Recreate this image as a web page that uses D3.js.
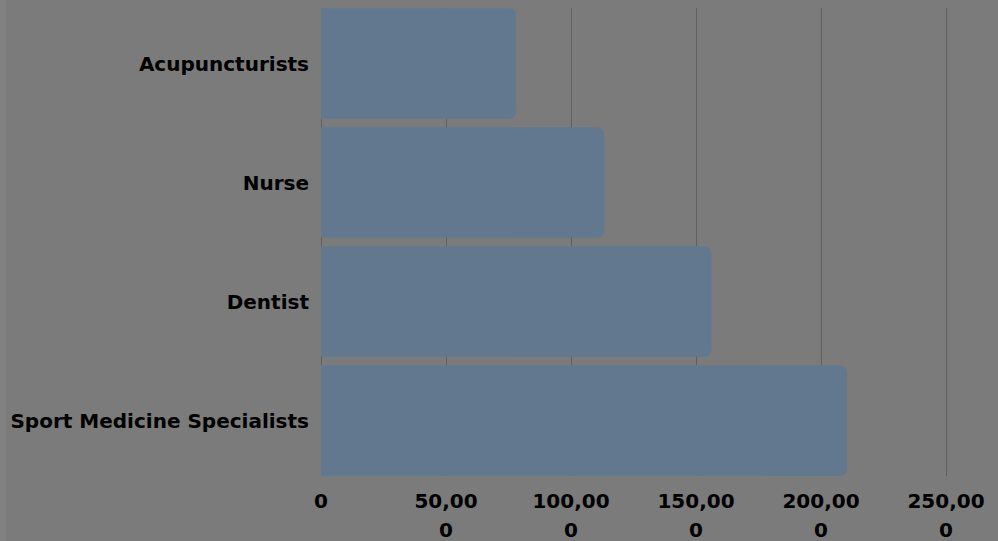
<!DOCTYPE html>
<html>
<head>
<meta charset="utf-8">
<script src="https://d3js.org/d3.v7.min.js"></script>
<style>
  body { margin: 0; background: #7b7b7b; }
  svg { display: block; }
  text { font-family: "DejaVu Sans", sans-serif; font-weight: bold; fill: #000; }
</style>
</head>
<body>
<script>
var categories = ["Acupuncturists", "Nurse", "Dentist", "Sport Medicine Specialists"];
var values = [78000, 113300, 156200, 210400];
var xTicks = [0, 50000, 100000, 150000, 200000, 250000];

var width = 998, height = 541;
var left = 321, right = 946;

var svg = d3.select("body").append("svg")
    .attr("width", width)
    .attr("height", height);

svg.append("rect").attr("width", width).attr("height", height).attr("fill", "#7b7b7b");
svg.append("rect").attr("width", 6).attr("height", height).attr("fill", "#818181");

var x = d3.scaleLinear().domain([0, 250000]).range([left, right]);
var y = d3.scaleBand().domain(categories).range([4, 480])
    .paddingInner(0.07).paddingOuter(0.035);

// grid
svg.selectAll(".grid").data(xTicks).enter().append("line")
    .attr("x1", function(d) { return x(d) + 0.5; })
    .attr("x2", function(d) { return x(d) + 0.5; })
    .attr("y1", 8).attr("y2", 476)
    .attr("stroke", "#606060").attr("stroke-width", 1);

// bars, rounded on the right end only
var r = 8;
svg.selectAll(".bar").data(values).enter().append("path")
    .attr("fill", "#62788f")
    .attr("d", function(d, i) {
      var x0 = x(0), x1 = x(d), y0 = y(categories[i]), h = y.bandwidth();
      return "M" + x0 + "," + y0 + "H" + (x1 - r) +
        "Q" + x1 + "," + y0 + " " + x1 + "," + (y0 + r) +
        "V" + (y0 + h - r) +
        "Q" + x1 + "," + (y0 + h) + " " + (x1 - r) + "," + (y0 + h) +
        "H" + x0 + "Z";
    });

// category labels
svg.selectAll(".cat").data(categories).enter().append("text")
    .attr("x", 309)
    .attr("y", function(d) { return y(d) + y.bandwidth() / 2; })
    .attr("dy", "0.35em")
    .attr("text-anchor", "end")
    .style("font-size", "20px")
    .text(function(d) { return d; });

// x tick labels, wrapped like the original ("50,00" / "0")
var fmt = d3.format(",");
var tl = svg.selectAll(".tick").data(xTicks).enter().append("text")
    .attr("text-anchor", "middle")
    .style("font-size", "20px")
    .attr("transform", function(d) { return "translate(" + x(d) + ",508)"; });
tl.each(function(d) {
  var s = fmt(d);
  var lines = s.length > 1 ? [s.slice(0, -1), s.slice(-1)] : [s];
  var t = d3.select(this);
  lines.forEach(function(l, k) {
    t.append("tspan").attr("x", 0).attr("dy", k ? 29 : 0).text(l);
  });
});
</script>
</body>
</html>
